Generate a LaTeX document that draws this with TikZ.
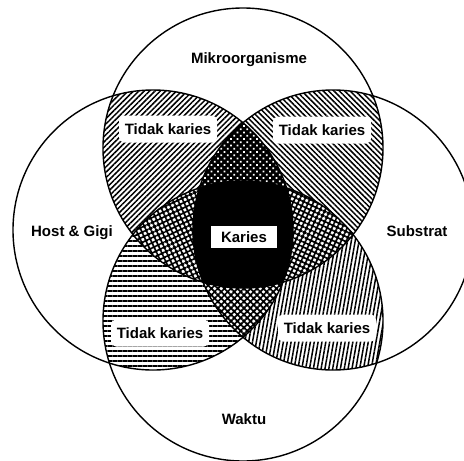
\documentclass[tikz,border=0pt]{standalone}
\usepackage{fontspec}
\setmainfont{Liberation Sans}
\usetikzlibrary{patterns.meta}

\newcommand\circT{(243,148) circle (140pt)}
\newcommand\circL{(153,230) circle (140pt)}
\newcommand\circR{(333,230) circle (140pt)}
\newcommand\circB{(243,321) circle (140pt)}

\tikzset{
  lbl/.style={font=\fontsize{15}{17}\selectfont\bfseries, inner sep=1pt},
  tkbox/.style={lbl, fill=white, rounded corners=5pt, minimum width=98pt, minimum height=27pt},
  ring/.style={draw=black, line width=1.4pt},
  hatch/.style={pattern={Lines[angle=#1,distance=3.8pt,line width=1.5pt]}},
  cross/.style={pattern={Hatch[angle=#1,distance=4.6pt,line width=1.7pt]}},
}

\begin{document}
\begin{tikzpicture}[x=1pt, y=-1pt]
\useasboundingbox (0,0) rectangle (464,461);
% two circles
\begin{scope}
  \clip \circT;
  \fill[hatch=45] \circL;
  \fill[hatch=-45] \circR;
\end{scope}
\begin{scope}
  \clip \circB;
  \fill[pattern={Lines[angle=0,distance=5pt,line width=1.5pt]}] \circL;
  \fill[hatch=80] \circR;
\end{scope}
% three circles
\begin{scope}
  \clip \circT; \clip \circL;
  \fill[black] \circR;
  \fill[pattern={Dots[radius=1.3pt,distance=4.6pt,angle=45]}, pattern color=white] \circR;
  \fill[white] \circB;
  \fill[cross=25] \circB;
\end{scope}
\begin{scope}
  \clip \circT; \clip \circR;
  \fill[white] \circB;
  \fill[cross=-25] \circB;
\end{scope}
\begin{scope}
  \clip \circL; \clip \circR;
  \fill[white] \circB;
  \fill[cross=45] \circB;
\end{scope}
% all four
\begin{scope}
  \clip \circT; \clip \circL; \clip \circR;
  \fill[black] \circB;
\end{scope}
% circles
\draw[ring] \circT;
\draw[ring] \circL;
\draw[ring] \circR;
\draw[ring] \circB;
% labels
\node[lbl] (mik) at (249,60) {Mikroorganisme};
\node[lbl] (host) at (72,233) {Host \& Gigi};
\node[lbl] (sub) at (417,231) {Substrat};
\node[lbl] (waktu) at (244,419) {Waktu};
\node[tkbox] (tk1) at (168,129) {Tidak karies};
\node[tkbox] (tk2) at (322,130) {Tidak karies};
\node[tkbox] (tk3) at (160,333) {Tidak karies};
\node[tkbox] (tk4) at (327,328) {Tidak karies};
\node[lbl, fill=white, minimum width=66pt, minimum height=22pt] (karies) at (244,237) {Karies};
\end{tikzpicture}
\end{document}
